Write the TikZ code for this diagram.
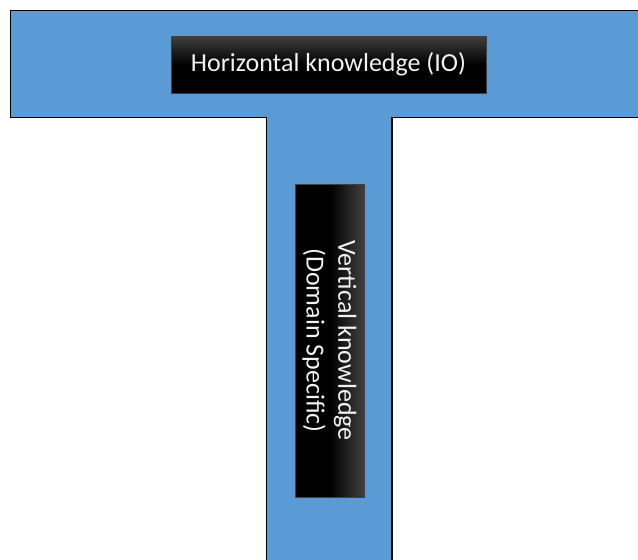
\documentclass[tikz,border=0pt]{standalone}
\usepackage{fontspec}
\setmainfont{Carlito}
\definecolor{tblue}{HTML}{5B9BD5}
\definecolor{labeltext}{HTML}{F2F2F2}
\begin{document}
\begin{tikzpicture}[x=1pt,y=-1pt,
  tshape/.style={fill=tblue,draw=black,line width=1.8pt,line join=miter},
  labelbox/.style={draw=black!75,line width=0.5pt,inner sep=0pt},
  labeltxt/.style={text=labeltext,align=center,inner sep=0pt,
    font=\fontsize{26}{31.7}\selectfont}]
  \useasboundingbox (0,0) rectangle (638,560);
  \clip (0,0) rectangle (638,560);
  % T-shaped body: top bar and stem
  \draw[tshape] (10.5,10.5) -- (660,10.5) -- (660,117.5) -- (392,117.5)
    -- (392,580) -- (266.5,580) -- (266.5,117.5) -- (10.5,117.5) -- cycle;
  % horizontal label: grey at the top fading to black
  \node[labelbox,top color=black!75,bottom color=black,middle color=black,
    minimum width=315pt,minimum height=57pt] (hbox) at (328.5,64.5) {};
  \node[labeltxt] (htext) at (hbox.center) {Horizontal knowledge (IO)};
  % vertical label: black on the left fading to grey on the right
  \node[labelbox,left color=black,right color=black!75,middle color=black,
    minimum width=69pt,minimum height=313pt] (vbox) at (329.5,340.5) {};
  \node[labeltxt,rotate=-90] (vtext) at (vbox.center)
    {Vertical knowledge\\(Domain Specific)};
\end{tikzpicture}
\end{document}
